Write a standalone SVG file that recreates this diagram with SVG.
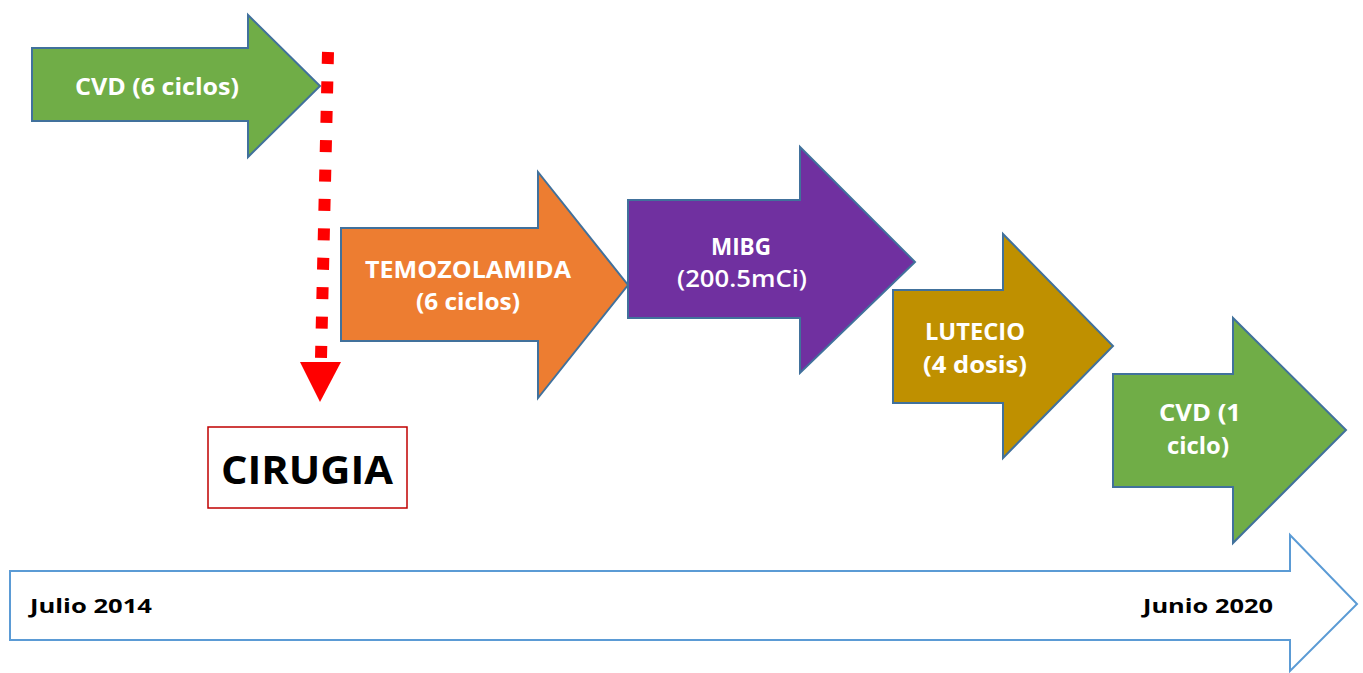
<svg xmlns="http://www.w3.org/2000/svg" width="1363" height="673" viewBox="0 0 1363 673">
<defs>
<style>
.arr{stroke:#41719C;stroke-width:2;stroke-linejoin:miter}
.lbl{font-family:"Open Sans","Liberation Sans",sans-serif;font-weight:bold;fill:#FFFFFF;text-anchor:middle;font-size:23px}
.dark{font-family:"Open Sans","Liberation Sans",sans-serif;font-weight:bold;fill:#000000}
</style>
</defs>
<rect width="1363" height="673" fill="#FFFFFF"/>
<g id="timeline">
<polygon points="10,571 1290,571 1290,535 1357,604 1290,671 1290,640 10,640" fill="#FFFFFF" stroke="#5B9BD5" stroke-width="2"/>
<text class="dark" x="30" y="613" font-size="20" textLength="122" lengthAdjust="spacingAndGlyphs">Julio 2014</text>
<text class="dark" x="1143" y="613" font-size="20" textLength="130" lengthAdjust="spacingAndGlyphs">Junio 2020</text>
</g>
<g id="cvd1">
<polygon class="arr" points="32,48 248,48 248,15 320,86 248,157 248,121 32,121" fill="#70AD47"/>
<text class="lbl" x="157" y="95" textLength="164" lengthAdjust="spacingAndGlyphs">CVD (6 ciclos)</text>
</g>
<g id="temozolamida">
<polygon class="arr" points="341,228 538,228 538,172 628,285 538,398 538,341 341,341" fill="#ED7D31"/>
<text class="lbl" x="468" y="278" textLength="206" lengthAdjust="spacingAndGlyphs">TEMOZOLAMIDA</text>
<text class="lbl" x="468" y="310" textLength="104" lengthAdjust="spacingAndGlyphs">(6 ciclos)</text>
</g>
<g id="mibg">
<polygon class="arr" points="628,200 800,200 800,147 915,262 800,373 800,318 628,318" fill="#7030A0"/>
<text class="lbl" x="741" y="255" textLength="60" lengthAdjust="spacingAndGlyphs">MIBG</text>
<text class="lbl" x="742" y="287" style="font-weight:600" textLength="130" lengthAdjust="spacingAndGlyphs">(200.5mCi)</text>
</g>
<g id="lutecio">
<polygon class="arr" points="893,290 1003,290 1003,234 1113,346 1003,458 1003,403 893,403" fill="#BF9000"/>
<text class="lbl" x="975" y="340" textLength="100" lengthAdjust="spacingAndGlyphs">LUTECIO</text>
<text class="lbl" x="975" y="373" textLength="104" lengthAdjust="spacingAndGlyphs">(4 dosis)</text>
</g>
<g id="cvd2">
<polygon class="arr" points="1113,374 1233,374 1233,318 1346,430 1233,543 1233,487 1113,487" fill="#70AD47"/>
<text class="lbl" x="1200" y="421" textLength="82" lengthAdjust="spacingAndGlyphs">CVD (1</text>
<text class="lbl" x="1198" y="454" textLength="62" lengthAdjust="spacingAndGlyphs">ciclo)</text>
</g>
<g id="cirugia">
<rect x="208" y="427" width="199" height="81" fill="#FFFFFF" stroke="#C00000" stroke-width="1.5"/>
<text class="dark" x="307" y="484" font-size="40" text-anchor="middle" textLength="172" lengthAdjust="spacingAndGlyphs">CIRUGIA</text>
</g>
<g id="connectors">
<line x1="328" y1="52" x2="321" y2="358" stroke="#FF0000" stroke-width="12" stroke-dasharray="12 17.4"/>
<polygon points="300,362 341,362 320,402" fill="#FF0000"/>
</g>
</svg>
